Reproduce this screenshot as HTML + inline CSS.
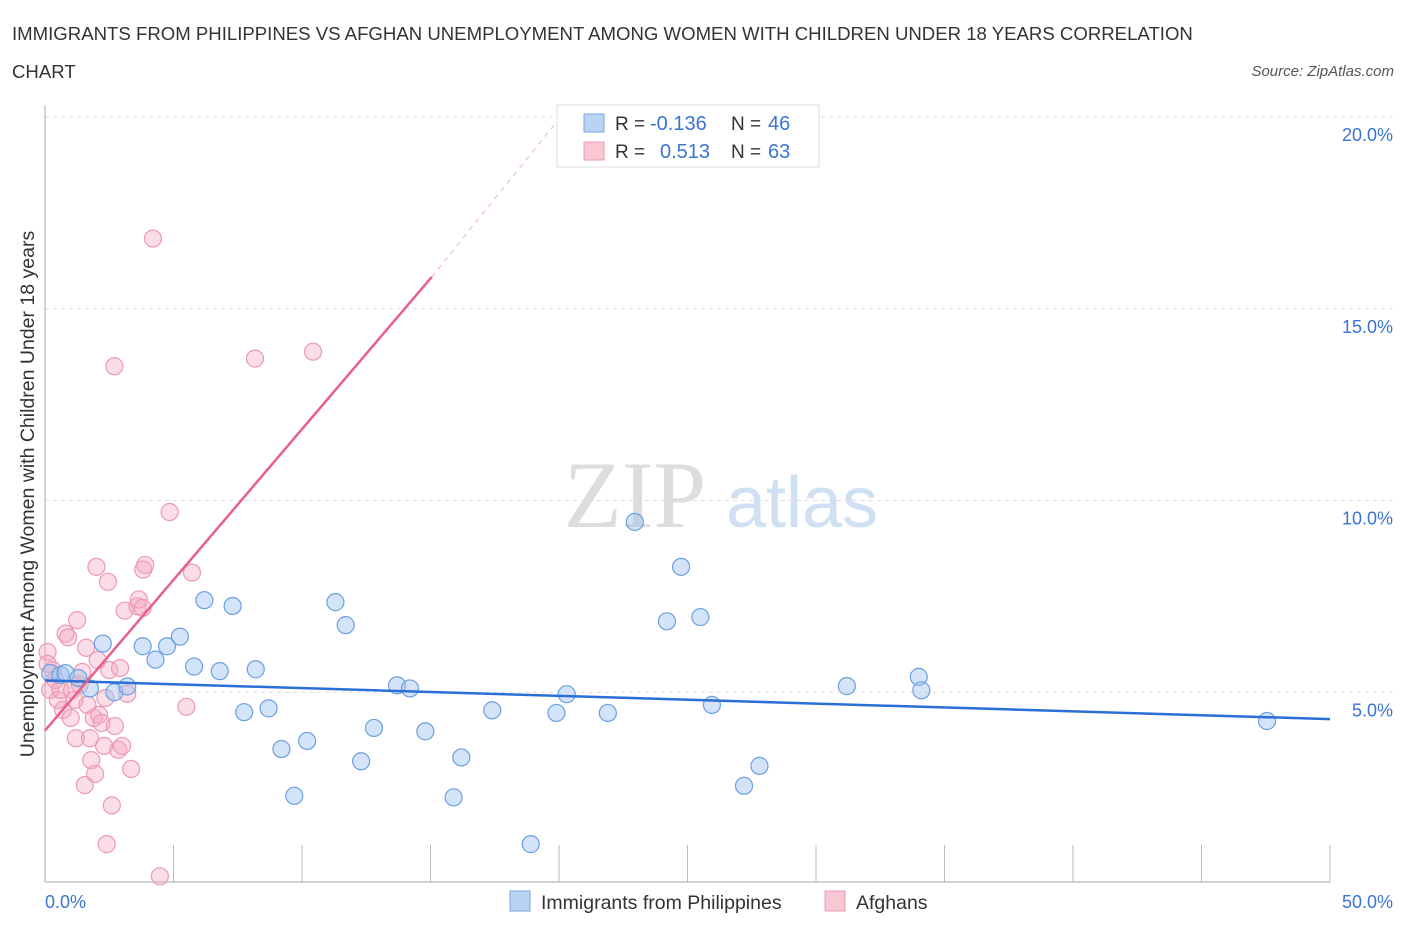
<!DOCTYPE html>
<html><head><meta charset="utf-8"><style>
body{margin:0;background:#fff;font-family:"Liberation Sans",sans-serif;}
</style></head><body>
<svg width="1406" height="930" xmlns="http://www.w3.org/2000/svg">
<text x="12" y="40" font-size="18.6" fill="#333">IMMIGRANTS FROM PHILIPPINES VS AFGHAN UNEMPLOYMENT AMONG WOMEN WITH CHILDREN UNDER 18 YEARS CORRELATION</text>
<text x="12" y="78" font-size="18.6" fill="#333">CHART</text>
<text x="1394" y="76" font-size="15" font-style="italic" fill="#555" text-anchor="end">Source: ZipAtlas.com</text>
<text x="635" y="527" font-size="95" font-family="Liberation Serif" fill="#ddd" text-anchor="middle">ZIP</text>
<text x="802" y="527" font-size="72" fill="#cfe0f3" text-anchor="middle">atlas</text>
<g id="grid"></g>
<g id="ticks"></g>
<line x1="45" y1="105" x2="45" y2="882" stroke="#aaa"/>
<line x1="45" y1="882" x2="1330" y2="882" stroke="#aaa"/>
<text x="34" y="494" font-size="19.5" fill="#333" text-anchor="middle" transform="rotate(-90 34 494)">Unemployment Among Women with Children Under 18 years</text>
<text x="45" y="908" font-size="18" fill="#3a74d4">0.0%</text>
<text x="1393" y="908" font-size="18" fill="#3a74d4" text-anchor="end">50.0%</text>
<g id="pts"></g>
<g id="trends"></g>
<g>
<rect x="557" y="105" width="262" height="62" fill="#fff" stroke="#ddd"/>
<rect x="584" y="114" width="20" height="18" fill="#b9d3f5" stroke="#7aa6e0"/>
<rect x="584" y="142" width="20" height="18" fill="#f9c6d4" stroke="#ec9ab2"/>
<text x="615" y="130" font-size="19" fill="#333">R =</text>
<text x="650" y="130" font-size="20" fill="#3a74d4">-0.136</text>
<text x="731" y="130" font-size="19" fill="#333">N =</text>
<text x="768" y="130" font-size="20" fill="#3a74d4">46</text>
<text x="615" y="158" font-size="19" fill="#333">R =</text>
<text x="660" y="158" font-size="20" fill="#3a74d4">0.513</text>
<text x="731" y="158" font-size="19" fill="#333">N =</text>
<text x="768" y="158" font-size="20" fill="#3a74d4">63</text>
</g>
<g>
<rect x="510" y="891" width="20" height="20" fill="#b9d3f5" stroke="#7aa6e0"/>
<text x="541" y="909" font-size="19.5" fill="#333">Immigrants from Philippines</text>
<rect x="825" y="891" width="20" height="20" fill="#f9c6d4" stroke="#ec9ab2"/>
<text x="856" y="909" font-size="19.5" fill="#333">Afghans</text>
</g>
</svg>
<script>
const yTicks=[5,10,15,20];
const yTickLabels=["5.0%","10.0%","15.0%","20.0%"];
const xTicks=[5,10,15,20,25,30,35,40,45,50];
const bluePts=[[0.2,5.5],[0.6,5.45],[0.8,5.5],[1.3,5.37],[1.75,5.1],[2.25,6.27],[2.7,5.0],[3.2,5.15],[3.8,6.2],[4.3,5.85],[4.75,6.2],[5.25,6.45],[5.8,5.67],[6.2,7.4],[6.8,5.55],[7.3,7.25],[7.75,4.48],[8.2,5.6],[8.7,4.58],[9.2,3.52],[9.7,2.3],[10.2,3.73],[11.3,7.35],[11.7,6.75],[12.3,3.2],[12.8,4.07],[13.7,5.18],[14.2,5.1],[14.8,3.98],[15.9,2.26],[16.2,3.3],[17.4,4.53],[18.9,1.04],[19.9,4.46],[20.3,4.95],[21.9,4.46],[22.95,9.44],[24.2,6.85],[24.75,8.27],[25.5,6.96],[25.95,4.67],[27.2,2.56],[27.8,3.08],[31.2,5.16],[34.0,5.4],[34.1,5.05],[47.55,4.25]];
const pinkPts=[[0.1,6.05],[0.1,5.74],[0.2,5.06],[0.3,5.58],[0.4,5.32],[0.5,4.8],[0.6,5.06],[0.7,4.54],[0.8,6.53],[0.9,6.43],[1.0,4.33],[1.05,5.06],[1.15,4.8],[1.2,3.8],[1.25,6.88],[1.35,5.2],[1.45,5.53],[1.55,2.58],[1.6,6.16],[1.65,4.67],[1.75,3.8],[1.8,3.23],[1.9,4.33],[1.95,2.87],[2.0,8.27],[2.05,5.84],[2.1,4.41],[2.2,4.2],[2.3,3.6],[2.35,4.85],[2.4,1.04],[2.45,7.88],[2.5,5.58],[2.6,2.05],[2.7,13.5],[2.72,4.12],[2.85,3.5],[2.92,5.63],[3.0,3.6],[3.1,7.13],[3.2,4.96],[3.35,3.0],[3.6,7.24],[3.65,7.42],[3.8,7.2],[3.82,8.2],[3.9,8.32],[4.2,16.83],[4.47,0.2],[4.85,9.7],[5.5,4.62],[5.72,8.12],[8.17,13.7],[10.43,13.88]];
const blueTrend=[[0,5.31],[50,4.3]];
const pinkTrendSolid=[[0,4.0],[15.05,15.83]];
const pinkTrendDash=[[15.05,15.83],[20.0,19.95]];
const NS='http://www.w3.org/2000/svg';
const X=v=>45+v/50*1285, Y=v=>884-v*38.35;
function mk(t,a,p){const e=document.createElementNS(NS,t);for(const k in a)e.setAttribute(k,a[k]);p.appendChild(e);return e;}
const grid=document.getElementById('grid'),ticks=document.getElementById('ticks'),pts=document.getElementById('pts'),tr=document.getElementById('trends');
yTicks.forEach((v,i)=>{
 const l=mk('line',{x1:45,x2:1395,y1:Y(v),y2:Y(v),stroke:'#ddd','stroke-dasharray':'4,4'},grid);
 
 
 const t=mk('text',{x:1393,y:Y(v)+24,'font-size':18,fill:'#3a74d4','text-anchor':'end'},grid);
 t.textContent=yTickLabels[i];
 
 
});
xTicks.forEach(v=>{
 const l=mk('line',{x1:X(v),x2:X(v),y1:845,y2:882,stroke:'#bbb'},ticks);
 
 
});
pinkPts.forEach(p=>{
 const c=mk('circle',{cx:X(p[0]),cy:Y(p[1]),r:8.5,fill:'rgba(246,170,194,0.4)',stroke:'#ec9ab2','stroke-width':1.2},pts);
 
 
});
bluePts.forEach(p=>{
 const c=mk('circle',{cx:X(p[0]),cy:Y(p[1]),r:8.5,fill:'rgba(160,195,240,0.45)',stroke:'#6c9fe0','stroke-width':1.2},pts);
 
 
});
let l=mk('line',{x1:X(blueTrend[0][0]),y1:Y(blueTrend[0][1]),x2:X(blueTrend[1][0]),y2:Y(blueTrend[1][1]),stroke:'#2a6fd6','stroke-width':2.5},tr);


l=mk('line',{x1:X(pinkTrendSolid[0][0]),y1:Y(pinkTrendSolid[0][1]),x2:X(pinkTrendSolid[1][0]),y2:Y(pinkTrendSolid[1][1]),stroke:'#e8608a','stroke-width':2.5},tr);


l=mk('line',{x1:X(pinkTrendDash[0][0]),y1:Y(pinkTrendDash[0][1]),x2:X(pinkTrendDash[1][0]),y2:Y(pinkTrendDash[1][1]),stroke:'#f0b0c4','stroke-width':1,'stroke-dasharray':'5,5'},tr);


</script>
</body></html>
